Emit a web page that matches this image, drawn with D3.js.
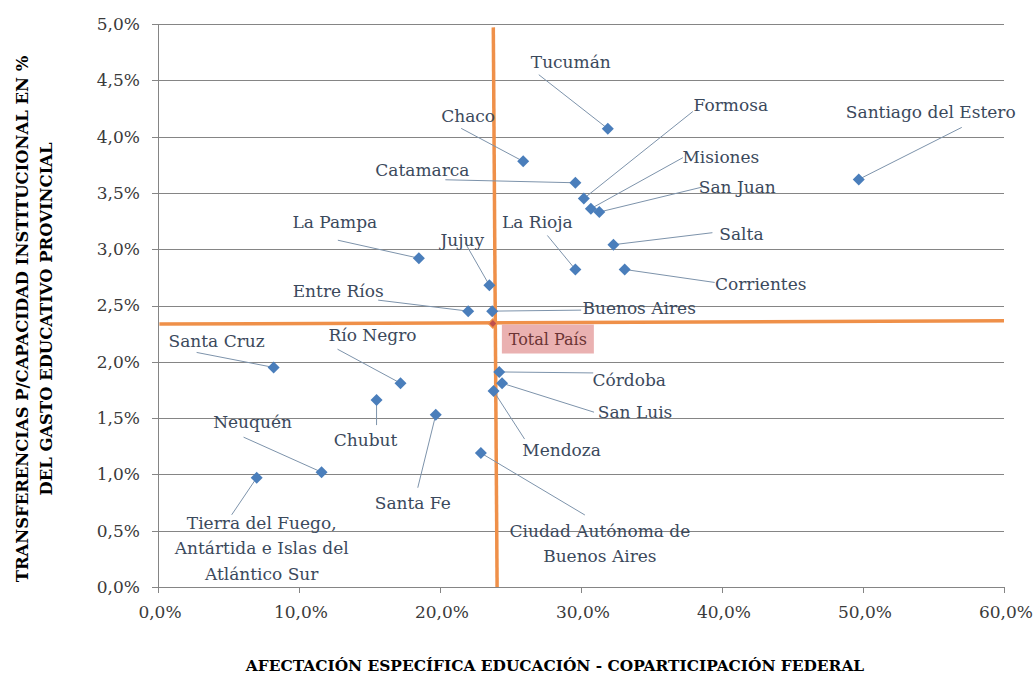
<!DOCTYPE html>
<html>
<head>
<meta charset="utf-8">
<script src="https://cdn.jsdelivr.net/npm/d3@7"></script>
<style>
  body { margin: 0; background: #fff; }
  text { font-family: "DejaVu Serif", serif; }
  .tick-label { font-size: 17px; fill: #3a3a3a; }
  .axis-title { font-weight: bold; fill: #000; }
  .point-label { font-size: 17px; fill: #3b495c; }
  .leader { stroke: #7d93ab; stroke-width: 1; }
  .grid { stroke: #858585; stroke-width: 1; shape-rendering: crispEdges; }
</style>
</head>
<body>
<div id="graph"></div>
<script>
// provinces, x = afectación específica (%), y = transferencias (%)
const provinces = [
  "Tucumán", "Chaco", "Catamarca", "Formosa", "Misiones", "San Juan", "Salta",
  "Santiago del Estero", "La Rioja", "Corrientes", "La Pampa", "Jujuy",
  "Entre Ríos", "Buenos Aires", "Santa Cruz", "Río Negro", "Córdoba",
  "San Luis", "Mendoza", "Chubut", "Santa Fe", "Neuquén",
  "Tierra del Fuego,\nAntártida e Islas del\nAtlántico Sur",
  "Ciudad Autónoma de\nBuenos Aires"
];
const afectacion = [
  31.9, 25.9, 29.6, 30.2, 30.7, 31.3, 32.3,
  49.7, 29.6, 33.1, 18.5, 23.5,
  22.0, 23.7, 8.2, 17.2, 24.2,
  24.4, 23.8, 15.5, 19.7, 11.6,
  7.0,
  22.9
];
const transferencias = [
  4.07, 3.78, 3.59, 3.45, 3.36, 3.33, 3.04,
  3.62, 2.82, 2.82, 2.92, 2.68,
  2.45, 2.45, 1.95, 1.81, 1.91,
  1.81, 1.74, 1.66, 1.53, 1.02,
  0.97,
  1.19
];
const totalPais = { x: 23.75, y: 2.34 };
const xTicks = [0, 10, 20, 30, 40, 50, 60];
const yTicks = [0, 0.5, 1, 1.5, 2, 2.5, 3, 3.5, 4, 4.5, 5];

// label layout: text offset and leader start, in px from the point
const labelOffset = [
  [-37, -67, -69, -54], [-55, -45, -62, -33], [-153, -13, -130, -3],
  [147, -93, 109, -87], [130, -52, 92, -51], [138, -25, 103, -25],
  [128, -11, 99, -12], [72, -67, 103, -52], [-38, -47, -28, -34],
  [136, 15, 90, 13], [-84, -36, -81, -18], [-27, -45, -24, -42],
  [-130, -20, -90, -11], [147, -3, 89, -1], [-57, -26, -77, -15],
  [-28, -48, -63, -34], [130, 8, 94, 1], [133, 29, 92, 29],
  [68, 59, 31, 48], [-11, 40, 0, 25], [-23, 88, -18, 73],
  [-69, -50, -78, -35], [5, 45, -25, 37], [119, 78, 104, 62]
];

const width = 1033, height = 675;
const plot = { left: 158, right: 1004, top: 24, bottom: 587 };

const svg = d3.select("#graph").append("svg")
  .attr("width", width).attr("height", height);

const x = d3.scaleLinear().domain([0, 60]).range([plot.left, plot.right]);
const y = d3.scaleLinear().domain([0, 5]).range([plot.bottom, plot.top]);
const fmt = v => d3.format(".1f")(v).replace(".", ",") + "%";

// horizontal gridlines + y ticks
svg.append("g").selectAll("line").data(yTicks).join("line")
  .attr("class", "grid")
  .attr("x1", plot.left - 6).attr("x2", plot.right)
  .attr("y1", d => Math.round(y(d)) + 0.5).attr("y2", d => Math.round(y(d)) + 0.5);

svg.append("line").attr("class", "grid")
  .attr("x1", plot.left + 0.5).attr("x2", plot.left + 0.5)
  .attr("y1", plot.top).attr("y2", plot.bottom);

svg.append("g").selectAll("line").data(xTicks).join("line")
  .attr("class", "grid")
  .attr("x1", d => Math.round(x(d)) + 0.5).attr("x2", d => Math.round(x(d)) + 0.5)
  .attr("y1", plot.bottom).attr("y2", plot.bottom + 6);

svg.append("g").selectAll("text").data(yTicks).join("text")
  .attr("class", "tick-label")
  .attr("x", plot.left - 18).attr("y", d => y(d))
  .attr("dy", "0.35em").attr("text-anchor", "end")
  .text(fmt);

svg.append("g").selectAll("text").data(xTicks).join("text")
  .attr("class", "tick-label")
  .attr("x", d => x(d) + 2).attr("y", plot.bottom + 25)
  .attr("dy", "0.35em").attr("text-anchor", "middle")
  .text(fmt);

// axis titles
svg.append("text").attr("class", "axis-title")
  .style("font-size", "15.4px")
  .attr("x", 555).attr("y", 671)
  .attr("text-anchor", "middle")
  .text("AFECTACIÓN ESPECÍFICA EDUCACIÓN - COPARTICIPACIÓN FEDERAL");

const yTitle = svg.append("text").attr("class", "axis-title")
  .style("font-size", "16.4px")
  .attr("text-anchor", "middle")
  .attr("transform", "translate(34, 319) rotate(-90)");
yTitle.append("tspan").attr("x", 0).attr("y", -12).attr("dy", "0.35em")
  .text("TRANSFERENCIAS P/CAPACIDAD INSTITUCIONAL EN %");
yTitle.append("tspan").attr("x", 0).attr("y", 12).attr("dy", "0.35em")
  .text("DEL GASTO EDUCATIVO PROVINCIAL");

// total país reference lines
const orange = "#ef9049";
svg.append("line")
  .attr("x1", x(23.78)).attr("y1", y(4.97))
  .attr("x2", x(24.05)).attr("y2", y(0))
  .attr("stroke", orange).attr("stroke-width", 3.5);
svg.append("line")
  .attr("x1", x(0.1)).attr("y1", y(2.335))
  .attr("x2", x(60)).attr("y2", y(2.365))
  .attr("stroke", orange).attr("stroke-width", 3.5);

const points = provinces.map((name, i) => ({
  name, x: afectacion[i], y: transferencias[i], off: labelOffset[i]
}));

// leader lines
svg.append("g").selectAll("line").data(points).join("line")
  .attr("class", "leader")
  .attr("x1", d => x(d.x) + d.off[2]).attr("y1", d => y(d.y) + d.off[3])
  .attr("x2", d => x(d.x)).attr("y2", d => y(d.y));

// markers
const diamond = d3.symbol(d3.symbolSquare, 72);
svg.append("g").selectAll("path").data(points).join("path")
  .attr("d", diamond)
  .attr("fill", "#4a7ebb")
  .attr("transform", d => `translate(${x(d.x)},${y(d.y)}) rotate(45)`);

// labels
const labels = svg.append("g").selectAll("text").data(points).join("text")
  .attr("class", "point-label")
  .attr("text-anchor", "middle");
labels.each(function(d) {
  const lines = d.name.split("\n");
  const t = d3.select(this);
  lines.forEach((ln, k) => {
    t.append("tspan")
      .attr("x", x(d.x) + d.off[0])
      .attr("y", y(d.y) + d.off[1] + k * 25.5)
      .attr("dy", "0.35em")
      .text(ln);
  });
});

// total país marker and label
svg.append("rect")
  .attr("x", x(totalPais.x) + 9).attr("y", y(totalPais.y) + 1)
  .attr("width", 92).attr("height", 29)
  .attr("fill", "#e6a3a3").attr("opacity", 0.85);
svg.append("path")
  .attr("d", d3.symbol(d3.symbolSquare, 40))
  .attr("fill", "#c0504d").attr("stroke", orange).attr("stroke-width", 1.5)
  .attr("transform", `translate(${x(totalPais.x)},${y(totalPais.y)}) rotate(45)`);
svg.append("text")
  .attr("class", "point-label")
  .attr("x", x(totalPais.x) + 55).attr("y", y(totalPais.y) + 16)
  .attr("dy", "0.35em").attr("text-anchor", "middle")
  .style("fill", "#6b3434").style("font-size", "16px")
  .text("Total País");
</script>
</body>
</html>
